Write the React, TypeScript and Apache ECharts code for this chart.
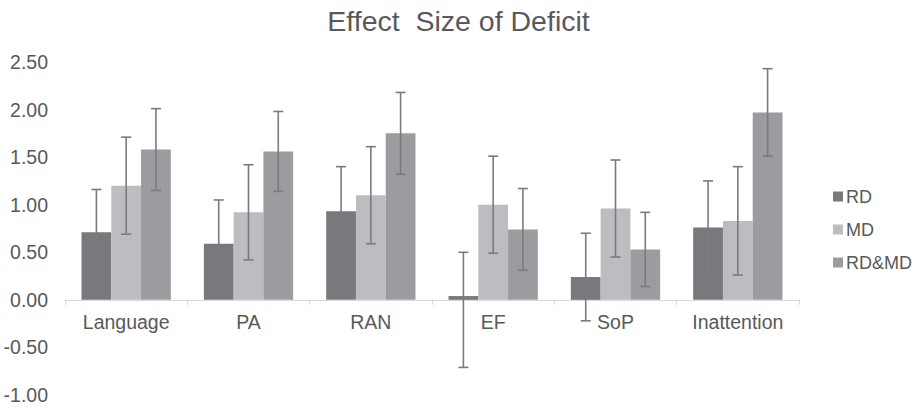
import React, { useEffect, useRef } from "react";
import * as echarts from "echarts";

const categories = ["Language", "PA", "RAN", "EF", "SoP", "Inattention"];
const seriesNames = ["RD", "MD", "RD&MD"];
const rdValues = [0.71, 0.59, 0.93, 0.04, 0.24, 0.76];
const mdValues = [1.2, 0.92, 1.1, 1.0, 0.96, 0.83];
const rdmdValues = [1.58, 1.56, 1.75, 0.74, 0.53, 1.97];
const rdErrPlus = [0.45, 0.46, 0.47, 0.46, 0.46, 0.49];
const rdErrMinus = [0.46, 0.45, 0.45, 0.75, 0.46, 0.49];
const mdErrPlus = [0.51, 0.5, 0.51, 0.51, 0.51, 0.57];
const mdErrMinus = [0.51, 0.5, 0.51, 0.51, 0.51, 0.57];
const rdmdErrPlus = [0.43, 0.42, 0.43, 0.43, 0.39, 0.46];
const rdmdErrMinus = [0.43, 0.42, 0.43, 0.43, 0.39, 0.46];
const yTicks = { min: -1, max: 2.5, interval: 0.5 };

const colors = ["#78797d", "#bcbdc1", "#9b9ca0"];
const FONT = "'Liberation Sans', Arial, sans-serif";
const TEXT = "#595959";
const GAP = 0.27;
const GRID_TOP = 62;
const GRID_BOTTOM = 13;
const H = 408;

export default function App() {
  const ref = useRef<HTMLDivElement>(null);
  useEffect(() => {
    document.body.style.margin = "0";
    const chart = echarts.init(ref.current!, null, { renderer: "svg" });
    const values = [rdValues, mdValues, rdmdValues];
    const plus = [rdErrPlus, mdErrPlus, rdmdErrPlus];
    const minus = [rdErrMinus, mdErrMinus, rdmdErrMinus];
    const plotH = H - GRID_TOP - GRID_BOTTOM;
    const zeroOffset = -(plotH * (0 - yTicks.min)) / (yTicks.max - yTicks.min);

    const barSeries = seriesNames.map((name, i) => ({
      name,
      type: "bar",
      data: values[i],
      barGap: "0%",
      barCategoryGap: GAP * 100 + "%",
      itemStyle: { color: colors[i] },
      z: 2,
    }));

    const errSeries = seriesNames.map((name, i) => ({
      name: name + "-err",
      type: "custom",
      z: 5,
      data: values[i].map((v, k) => [k, v - minus[i][k], v + plus[i][k]]),
      encode: { x: 0, y: [1, 2] },
      renderItem: (params: any, api: any) => {
        const c = api.value(0);
        const lo = api.coord([c, api.value(1)]);
        const hi = api.coord([c, api.value(2)]);
        const band = api.size([1, 0])[0];
        const barW = (band * (1 - GAP)) / 3;
        const x = lo[0] + (i - 1) * barW;
        const cap = 5;
        const style = { stroke: "#7b7b7b", lineWidth: 1.6 };
        return {
          type: "group",
          children: [
            { type: "line", shape: { x1: x, y1: lo[1], x2: x, y2: hi[1] }, style },
            { type: "line", shape: { x1: x - cap, y1: lo[1], x2: x + cap, y2: lo[1] }, style },
            { type: "line", shape: { x1: x - cap, y1: hi[1], x2: x + cap, y2: hi[1] }, style },
          ],
        };
      },
    }));

    chart.setOption({
      animation: false,
      textStyle: { fontFamily: FONT },
      title: {
        text: "Effect  Size of Deficit",
        left: "center",
        top: 1,
        textStyle: { fontFamily: FONT, fontSize: 28.5, fontWeight: "normal", color: TEXT },
      },
      legend: {
        data: seriesNames,
        orient: "vertical",
        left: 828,
        top: 182,
        icon: "rect",
        itemWidth: 10,
        itemHeight: 10,
        itemGap: 14,
        textStyle: { fontFamily: FONT, fontSize: 18, color: TEXT, lineHeight: 19, padding: [0, 0, 0, -2] },
      },
      grid: { left: 65, right: 118, top: GRID_TOP, bottom: GRID_BOTTOM, containLabel: false, outerBoundsMode: "none" },
      xAxis: {
        type: "category",
        data: categories,
        position: "bottom",
        offset: zeroOffset,
        axisLine: { onZero: false, lineStyle: { color: "#d9d9d9", width: 1 } },
        axisTick: { show: true, length: 5, lineStyle: { color: "#d9d9d9" } },
        axisLabel: { fontFamily: FONT, fontSize: 19.5, color: TEXT, margin: 12 },
      },
      yAxis: {
        type: "value",
        min: yTicks.min,
        max: yTicks.max,
        interval: yTicks.interval,
        splitLine: { show: false },
        axisLine: { show: false },
        axisTick: { show: false },
        axisLabel: {
          fontFamily: FONT,
          fontSize: 19.5,
          color: TEXT,
          margin: 17,
          formatter: (v: number) => v.toFixed(2),
        },
      },
      series: [...barSeries, ...errSeries],
    });
    return () => chart.dispose();
  }, []);
  return <div ref={ref} style={{ width: 917, height: 408 }} />;
}
